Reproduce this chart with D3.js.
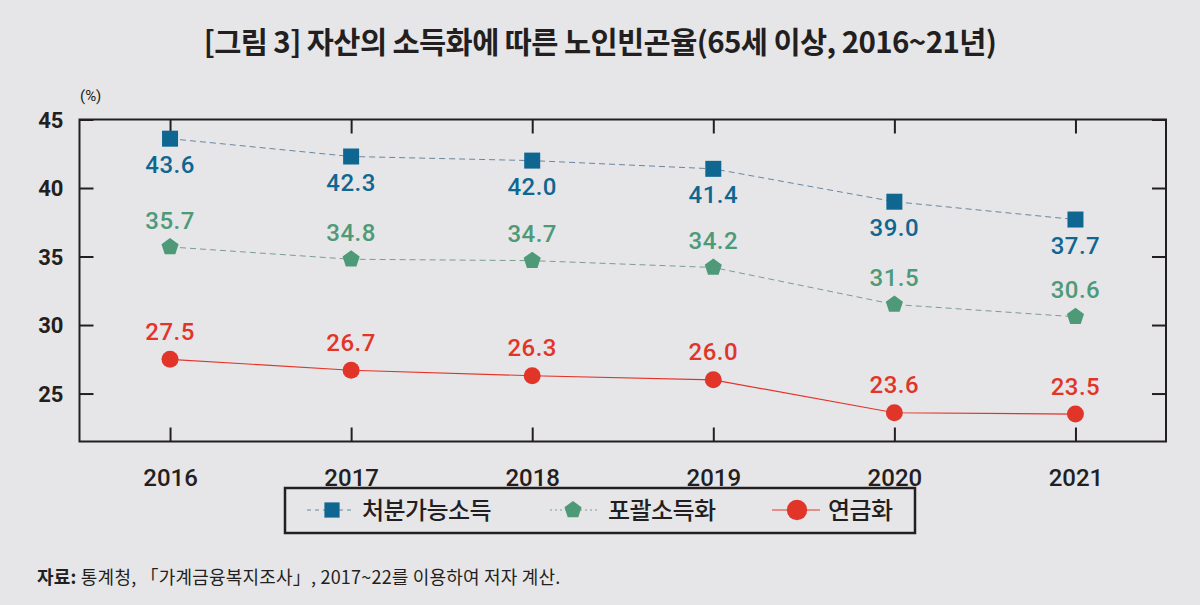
<!DOCTYPE html>
<html><head><meta charset="utf-8">
<script src="https://cdn.jsdelivr.net/npm/d3@7"></script>
<style>
html,body{margin:0;padding:0;background:#e6e6e8;}
svg{display:block;font-family:"Noto Sans CJK KR","Noto Sans",sans-serif;}
</style></head>
<body>
<svg id="c" width="1200" height="605"></svg>
<script>
const years = ["2016","2017","2018","2019","2020","2021"];
const disposable = [43.6, 42.3, 42.0, 41.4, 39.0, 37.7];
const comprehensive = [35.7, 34.8, 34.7, 34.2, 31.5, 30.6];
const pension = [27.5, 26.7, 26.3, 26.0, 23.6, 23.5];
const seriesNames = ["처분가능소득", "포괄소득화", "연금화"];
const yTicks = [25, 30, 35, 40, 45];

const svg = d3.select("#c");
const L = 79.5, R = 1166, T = 119.5, B = 441.5;
const x = d3.scalePoint().domain(years).range([L, R]).padding(0.5);
const y = d3.scaleLinear().domain([21.5, 45]).range([B, T]);

svg.append("rect").attr("width",1200).attr("height",605).attr("fill","#e6e6e8");

// title
svg.append("text").attr("x",600).attr("y",53).attr("text-anchor","middle")
  .attr("font-size",29.5).attr("font-weight",700).attr("fill","#231f20")
  .attr("letter-spacing","-0.6")
  .text("[그림 3] 자산의 소득화에 따른 노인빈곤율(65세 이상, 2016~21년)");

// unit
svg.append("text").attr("x",80).attr("y",101).attr("font-family","Roboto, sans-serif").attr("font-size",15).attr("fill","#231f20").text("(%)");

// frame
const ax = "#231f20";
svg.append("rect").attr("x",L).attr("y",T).attr("width",R-L).attr("height",B-T)
  .attr("fill","none").attr("stroke",ax).attr("stroke-width",2);

// axes with inward ticks
const gl = svg.append("g").attr("transform",`translate(${L},0)`)
  .call(d3.axisLeft(y).tickValues(yTicks).tickSize(-14).tickPadding(30).tickFormat(d3.format("d")));
const gr = svg.append("g").attr("transform",`translate(${R},0)`)
  .call(d3.axisRight(y).tickValues(yTicks).tickSize(-14).tickFormat(""));
const gb = svg.append("g").attr("transform",`translate(0,${B})`)
  .call(d3.axisBottom(x).tickSize(-14).tickPadding(27));
const gt = svg.append("g").attr("transform",`translate(0,${T})`)
  .call(d3.axisTop(x).tickSize(-14).tickFormat(""));
[gl,gr,gb,gt].forEach(g=>{
  g.select(".domain").remove();
  g.selectAll(".tick line").attr("stroke",ax).attr("stroke-width",2);
});
gl.selectAll(".tick text").attr("font-family","Roboto, sans-serif").attr("font-size",22)
  .attr("font-weight",700).attr("fill",ax).attr("dy","0.35em").attr("dx",14);
gb.selectAll(".tick text").attr("font-family","Roboto, sans-serif").attr("font-size",24)
  .attr("font-weight",500).attr("fill",ax);

const blue = "#0f6791", green = "#4e9a78", red = "#e2352a";

const series = [
  {name: seriesNames[0], vals: disposable, color: blue, dash: "6,4", sw: 1, lineColor:"#6a86a0", label: 26, sym: "sq"},
  {name: seriesNames[1], vals: comprehensive, color: green, dash: "6,4", sw: 1, lineColor:"#7a9e90", label: -27, sym: "pent"},
  {name: seriesNames[2], vals: pension, color: red, dash: null, sw: 1.2, lineColor: red, label: -28, sym: "circ"}
];

function pentagon(r){
  const pts=[];
  for(let i=0;i<5;i++){const a=-Math.PI/2+i*2*Math.PI/5;pts.push([r*Math.cos(a),r*Math.sin(a)]);}
  return "M"+pts.map(p=>p.join(",")).join("L")+"Z";
}
function marker(g, s, scale){
  if(s.sym==="pent") return g.append("path").attr("d",pentagon(9*scale)).attr("fill",s.color);
  if(s.sym==="circ") return g.append("circle").attr("r",8.5*scale).attr("fill",s.color);
  const w=16*scale; return g.append("rect").attr("x",-w/2).attr("y",-w/2).attr("width",w).attr("height",w).attr("fill",s.color);
}

const line = d3.line().x((d,i)=>x(years[i])).y(d=>y(d));
series.forEach(s=>{
  svg.append("path").datum(s.vals).attr("d",line).attr("fill","none")
    .attr("stroke",s.lineColor).attr("stroke-width",s.sw).attr("stroke-dasharray",s.dash);
  s.vals.forEach((v,i)=>{
    const g = svg.append("g").attr("transform",`translate(${x(years[i])},${y(v)})`);
    marker(g,s,1);
    g.append("text").attr("y",s.label).attr("dy","0.36em")
      .attr("text-anchor","middle").attr("font-family","Roboto, sans-serif")
      .attr("font-size",24).attr("font-weight",500).attr("letter-spacing","0.5").attr("fill",s.color).text(v.toFixed(1));
  });
});

// legend
svg.append("rect").attr("x",285).attr("y",488).attr("width",630).attr("height",45)
  .attr("fill","none").attr("stroke","#231f20").attr("stroke-width",2.5);
const legendCfg = [
  {x1:307, x2:352, mx:332, tx:362, dash:"4,4", ms:0.95},
  {x1:550, x2:598, mx:573, tx:608, dash:"2,3", ms:1},
  {x1:772, x2:820, mx:797, tx:828, dash:null, ms:1.2}
];
series.forEach((s,i)=>{
  const c = legendCfg[i];
  const g = svg.append("g").attr("transform",`translate(0,510)`);
  g.append("line").attr("x1",c.x1).attr("x2",c.x2).attr("y1",0).attr("y2",0)
    .attr("stroke",s.lineColor).attr("stroke-width",s.sw).attr("stroke-dasharray",c.dash);
  const mg = g.append("g").attr("transform",`translate(${c.mx},0)`);
  marker(mg,s,c.ms);
  g.append("text").attr("x",c.tx).attr("dy","0.36em")
    .attr("font-size",24).attr("font-weight",500).attr("letter-spacing","-0.6").attr("fill","#231f20").text(s.name);
});

// source
const src = svg.append("text").attr("x",37).attr("y",584).attr("font-size",18).attr("letter-spacing","0.2").attr("fill","#231f20");
src.append("tspan").attr("font-weight",700).text("자료: ");
src.append("tspan").text("통계청, 「가계금융복지조사」, 2017~22를 이용하여 저자 계산.");
</script>
</body></html>
